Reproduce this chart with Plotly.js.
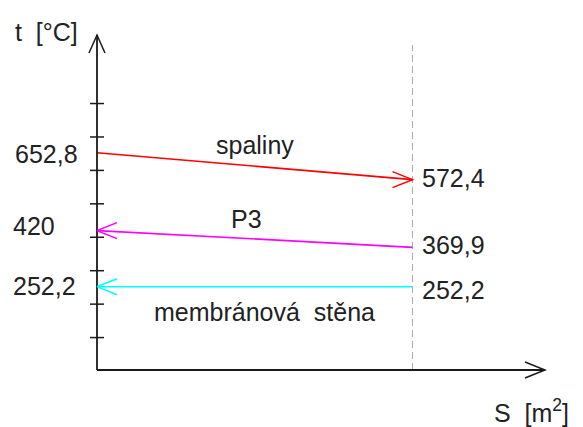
<!DOCTYPE html>
<html>
<head>
<meta charset="utf-8">
<script src="https://cdn.plot.ly/plotly-3.0.1.min.js"></script>
<style>html,body{margin:0;padding:0;background:#fff;}#chart{width:583px;height:427px;}</style>
</head>
<body>
<div id="chart"></div>
<script>
// ---- data ----
const S = [0, 1];                       // surface (relative), start / end
const spaliny = [652.8, 572.4];         // flue gas temperature [°C]
const p3 = [420, 369.9];                // P3 temperature [°C]
const membrana = [252.2, 252.2];        // membrane wall temperature [°C]
const streamNames = ['spaliny', 'P3', 'membránová  stěna'];
const yTicks = [100, 200, 300, 400, 500, 600, 700, 800];
const xAxisTitle = 'S  [m<sup>2</sup>]';
const yAxisTitle = 't  [°C]';

const fmt = v => Number.isInteger(v) ? String(v) : v.toFixed(1).replace('.', ',');

const ink = '#1a1a1a';
const red = '#ff0000', mag = '#ff00ff', cyan = '#00ffff';
const font = {family: 'Liberation Sans, Arial, sans-serif', size: 25, color: '#222222'};

const traces = [
  {x: S, y: spaliny, mode: 'lines', line: {color: red, width: 1.6}, hoverinfo: 'skip'},
  {x: S, y: p3, mode: 'lines', line: {color: mag, width: 1.6}, hoverinfo: 'skip'},
  {x: S, y: membrana, mode: 'lines', line: {color: cyan, width: 1.6}, hoverinfo: 'skip'},
  {x: yTicks.map(() => 0), y: yTicks, mode: 'markers', hoverinfo: 'skip', cliponaxis: false,
   marker: {symbol: 'line-ew', size: 10, line: {color: ink, width: 1.5}}}
];

function chevron(x, y, path, color, xref, yref) {
  return {type: 'path', xref: xref || 'x', yref: yref || 'y', xsizemode: 'pixel', ysizemode: 'pixel',
          xanchor: x, yanchor: y, path: path, line: {color: color, width: 1.5}, layer: 'above'};
}
const RIGHT = 'M-20,8 L0,0 L-20,-8';
const LEFT = 'M20,8 L0,0 L20,-8';
const UP = 'M-8,-18 L0,0 L8,-18';

const shapes = [
  // axes
  {type: 'line', xref: 'paper', yref: 'paper', x0: 0, x1: 0, y0: 0, y1: 1, line: {color: ink, width: 1.8}, layer: 'above'},
  {type: 'line', xref: 'paper', yref: 'paper', x0: 0, x1: 1, y0: 0, y1: 0, line: {color: ink, width: 1.8}, layer: 'above'},
  chevron(0, 1, UP, ink, 'paper', 'paper'),
  chevron(1, 0, RIGHT, ink, 'paper', 'paper'),
  // end-of-surface dashed line
  {type: 'line', xref: 'x', yref: 'paper', x0: S[1], x1: S[1], y0: 0, y1: 0.97,
   line: {color: '#aaaaaa', width: 1, dash: '7px,4px'}, layer: 'below'},
  // stream arrows
  chevron(S[1], spaliny[1], RIGHT, red),
  chevron(S[0], p3[0], LEFT, mag),
  chevron(S[0], membrana[0], LEFT, cyan)
];

function lab(x, y, text, opts) {
  return Object.assign({x: x, y: y, xref: 'x', yref: 'y', text: text, showarrow: false, font: font}, opts);
}

const annotations = [
  // left values
  lab(S[0], spaliny[0], fmt(spaliny[0]), {xanchor: 'left', xshift: -84, yshift: -1}),
  lab(S[0], p3[0], fmt(p3[0]), {xanchor: 'left', xshift: -86, yshift: 5}),
  lab(S[0], membrana[0], fmt(membrana[0]), {xanchor: 'left', xshift: -86, yshift: 1}),
  // right values
  lab(S[1], spaliny[1], fmt(spaliny[1]), {xanchor: 'left', xshift: 8, yshift: 2}),
  lab(S[1], p3[1], fmt(p3[1]), {xanchor: 'left', xshift: 8, yshift: 2}),
  lab(S[1], membrana[1], fmt(membrana[1]), {xanchor: 'left', xshift: 8, yshift: -3}),
  // stream names
  lab(0.5, (spaliny[0] + spaliny[1]) / 2, streamNames[0], {yshift: 21}),
  lab(0.475, (p3[0] + p3[1]) / 2, streamNames[1], {yshift: 20}),
  lab(0.53, (membrana[0] + membrana[1]) / 2, streamNames[2], {yshift: -25}),
  // axis titles
  {x: 0, y: 1, xref: 'paper', yref: 'paper', text: yAxisTitle, showarrow: false, font: font,
   xanchor: 'left', yanchor: 'middle', xshift: -84, yshift: 3},
  {x: 1, y: 0, xref: 'paper', yref: 'paper', text: xAxisTitle, showarrow: false, font: font,
   xanchor: 'left', yanchor: 'middle', xshift: -53, yshift: -41}
];

const layout = {
  width: 583, height: 427,
  margin: {l: 97, r: 38, t: 35, b: 57},
  paper_bgcolor: '#ffffff', plot_bgcolor: '#ffffff',
  showlegend: false,
  xaxis: {range: [0, 1.42], showgrid: false, zeroline: false, showticklabels: false, ticks: '', showline: false},
  yaxis: {range: [3, 1005], showgrid: false, zeroline: false, showticklabels: false, ticks: '', showline: false},
  shapes: shapes,
  annotations: annotations
};

Plotly.newPlot('chart', traces, layout, {displayModeBar: false, staticPlot: true});
</script>
</body>
</html>
